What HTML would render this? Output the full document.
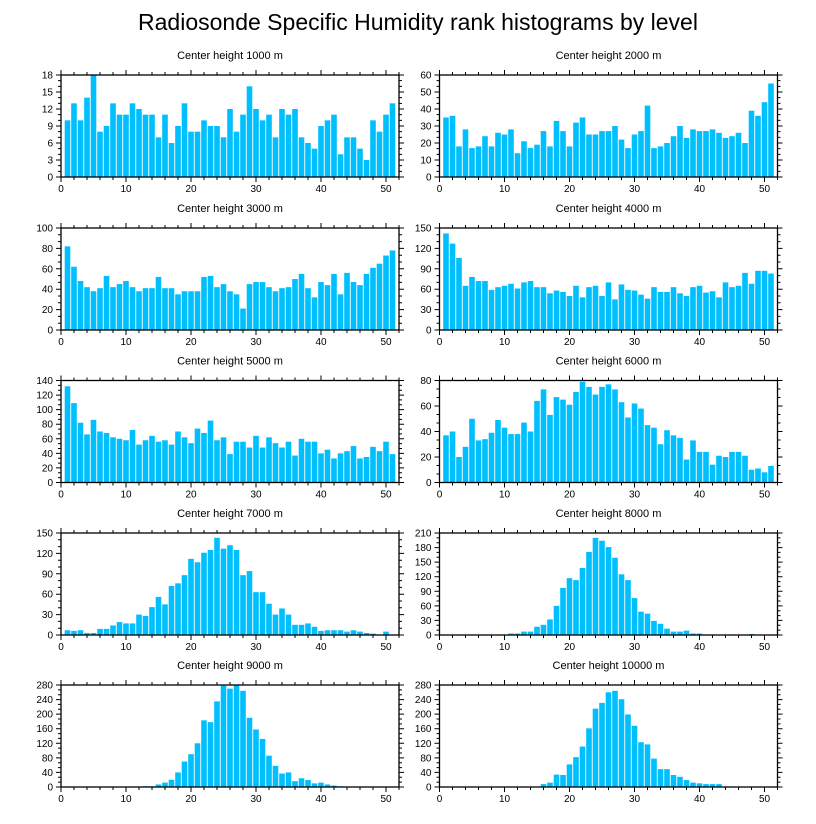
<!DOCTYPE html>
<html><head><meta charset="utf-8"><style>
html,body{margin:0;padding:0;background:#fff;}
svg{display:block;font-family:"Liberation Sans",sans-serif;}
</style></head><body>
<svg id="chart" width="816" height="824" viewBox="0 0 816 824" xmlns="http://www.w3.org/2000/svg">
<rect width="816" height="824" fill="#fff"/>
<text x="418" y="30" font-size="23" text-anchor="middle">Radiosonde Specific Humidity rank histograms by level</text>
</svg>
<script>
const panelTitles = ["Center height 1000 m","Center height 2000 m","Center height 3000 m","Center height 4000 m","Center height 5000 m","Center height 6000 m","Center height 7000 m","Center height 8000 m","Center height 9000 m","Center height 10000 m"];
const yMax = [18,60,100,150,140,80,150,210,280,280];
const yStep = [3,10,20,30,20,20,30,30,40,40];
const xTicks = [0,10,20,30,40,50];
const h1000 = [10,13,10,14,18,8,9,13,11,11,13,12,11,11,7,11,6,9,13,8,8,10,9,9,7,12,8,11,16,12,10,11,7,12,11,12,7,6,5,9,10,11,4,7,7,5,3,10,8,11,13];
const h2000 = [35,36,18,28,17,18,24,18,26,25,28,14,21,17,19,27,18,33,27,18,32,35,25,25,27,27,30,22,17,25,27,42,17,18,20,24,30,23,28,27,27,28,26,23,24,26,20,39,36,44,55];
const h3000 = [82,62,48,42,38,41,53,42,45,48,42,38,41,41,52,41,41,35,38,38,38,52,53,42,45,38,35,21,45,47,47,42,38,41,42,50,55,41,32,47,44,55,35,56,47,44,55,61,65,73,78];
const h4000 = [142,127,106,65,78,72,72,59,63,65,68,61,70,72,63,63,54,58,56,50,65,48,63,65,50,70,45,67,59,58,52,46,63,56,56,63,54,50,63,65,55,57,48,70,63,65,84,68,87,87,83];
const h5000 = [132,109,82,66,86,70,68,62,60,58,72,52,58,64,56,58,52,70,62,54,74,68,85,58,62,39,56,56,48,64,48,62,54,48,56,37,60,56,56,40,45,33,40,43,50,33,35,49,43,56,39];
const h6000 = [37,40,20,28,50,33,34,39,49,43,38,38,47,40,64,73,53,67,65,61,71,79,75,69,75,77,73,63,51,62,58,45,43,30,41,37,35,18,33,24,24,14,21,20,24,24,21,10,11,8,13];
const h7000 = [7,6,7,3,3,9,9,14,19,17,17,30,28,41,56,45,72,76,88,112,107,121,125,143,127,132,125,88,94,63,63,46,30,39,30,15,15,17,12,6,7,7,7,5,7,5,3,2,0,5,0];
const h8000 = [1,1,1,1,1,1,1,1,1,1,3,3,7,7,17,21,32,60,97,117,113,138,171,200,194,181,159,125,113,76,48,44,29,23,13,7,7,9,3,3,0,0,0,0,0,0,0,2,0,0,0];
const h9000 = [0,0,0,0,0,0,0,0,0,0,0,1,2,2,7,12,20,40,70,90,120,183,178,235,278,270,280,264,190,158,132,86,58,37,40,16,24,19,10,12,7,4,2,1,1,0,0,1,0,1,0];
const h10000 = [0,0,0,0,0,0,0,0,0,0,0,0,0,0,0,8,12,34,33,62,82,111,161,215,231,260,264,241,199,168,123,117,78,49,49,33,28,19,12,10,8,8,8,0,0,0,1,0,0,0,0];
const series = [h1000,h2000,h3000,h4000,h5000,h6000,h7000,h8000,h9000,h10000];

const NS = "http://www.w3.org/2000/svg";
const svg = document.getElementById("chart");
function mk(tag, attrs, parent){const e=document.createElementNS(NS,tag);for(const k in attrs)e.setAttribute(k,attrs[k]);(parent||svg).appendChild(e);return e;}
const lefts=[61,439.5], W=338, tops=[75,228,380.5,533,685], H=102, XMAX=52;

series.forEach((vals,p)=>{
  const col=p%2,row=Math.floor(p/2);
  const x0=lefts[col], y0=tops[row];
  const xs=v=>x0+v/XMAX*W;
  const ys=v=>y0+H-v/yMax[p]*H;
  const g=mk("g",{});
  
  
  const t=mk("text",{x:x0+W/2,y:y0-16,"font-size":11,"text-anchor":"middle"},g);
  t.textContent=panelTitles[p];
  
  
  vals.forEach((v,i)=>{
    const r=i+1, bw=0.86;
    const b=mk("rect",{x:xs(r-bw/2),y:ys(v),width:xs(bw)-x0,height:Math.max(0,y0+H-ys(v)),fill:"#00BFFF"},g);
    
    
  });
  const fr=mk("rect",{x:x0,y:y0,width:W,height:H,fill:"none",stroke:"#000","stroke-width":1.3},g);
  
  
  let d="";
  for(let v=0;v<=XMAX;v+=2){const L=(v%10===0)?5:3;const x=xs(v);d+=`M${x},${y0+H}v${L}M${x},${y0}v${-L}`;}
  const ms=yStep[p]/3;
  for(let k=0;k*ms<=yMax[p]+1e-6;k++){const v=k*ms;const L=(k%3===0)?5:3;const y=ys(v);d+=`M${x0},${y}h${-L}M${x0+W},${y}h${L}`;}
  const tk=mk("path",{d:d,stroke:"#000","stroke-width":1,fill:"none"},g);
  
  
  xTicks.forEach(v=>{
    const l=mk("text",{x:xs(v),y:y0+H+15,"font-size":10,"text-anchor":"middle"},g);
    l.textContent=v;
    
    
  });
  for(let v=0;v<=yMax[p];v+=yStep[p]){
    const l=mk("text",{x:x0-8,y:ys(v)+3.5,"font-size":10,"text-anchor":"end"},g);
    l.textContent=v;
    
    
  }
});
</script>
</body></html>
